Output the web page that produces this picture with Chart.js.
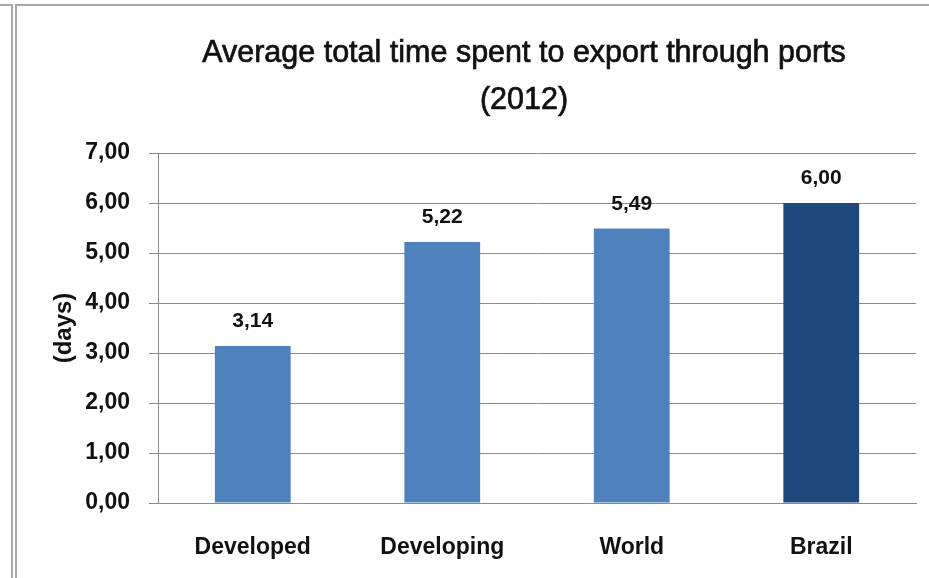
<!DOCTYPE html>
<html>
<head>
<meta charset="utf-8">
<script src="https://cdn.jsdelivr.net/npm/chart.js@4/dist/chart.umd.min.js"></script>
<style>
  html, body { margin: 0; padding: 0; background: #fff; }
  #wrap { position: relative; width: 929px; height: 578px; overflow: hidden; }
  /* frame lines around the chart object */
  .frame-left { position: absolute; left: -2px; top: 4px; width: 13px; height: 600px;
                border-top: 2px solid #a8a8a8; border-right: 2px solid #a8a8a8; }
  .frame-main { position: absolute; left: 15px; top: 4px; width: 940px; height: 600px;
                border-top: 2px solid #a8a8a8; border-left: 2px solid #a8a8a8; }
  canvas { position: absolute; left: 0; top: 0; }
</style>
</head>
<body>
<div id="wrap">
  <div class="frame-left"></div>
  <div class="frame-main"></div>
  <canvas id="chart" width="929" height="578"></canvas>
</div>
<script>
const categories = ['Developed', 'Developing', 'World', 'Brazil'];
const exportDays = [3.14, 5.22, 5.49, 6.00];
const barColors = ['#4F81BD', '#4F81BD', '#4F81BD', '#1F497D'];
const yTicks = [0, 1, 2, 3, 4, 5, 6, 7];
const titleLines = ['Average total time spent to export through ports', '(2012)'];

const FONT = '"Liberation Sans", Arial, sans-serif';
const fmt = v => v.toFixed(2).replace('.', ',');

// value labels above each bar
const barValueLabels = {
    id: 'barValueLabels',
    afterDatasetsDraw(chart) {
        const ctx = chart.ctx;
        const meta = chart.getDatasetMeta(0);
        ctx.save();
        ctx.font = 'bold 21px ' + FONT;
        ctx.fillStyle = '#111';
        ctx.textAlign = 'center';
        ctx.textBaseline = 'alphabetic';
        meta.data.forEach((bar, i) => {
            ctx.fillText(fmt(exportDays[i]), bar.x, bar.y - 19);
        });
        ctx.restore();
    }
};

// two-line heading, centred a bit left of the plot centre
const heading = {
    id: 'heading',
    afterDraw(chart) {
        const ctx = chart.ctx;
        ctx.save();
        ctx.font = '30.5px ' + FONT;
        ctx.fillStyle = '#111';
        ctx.strokeStyle = '#111';
        ctx.lineWidth = 0.7;
        ctx.textAlign = 'center';
        ctx.textBaseline = 'alphabetic';
        titleLines.forEach((line, i) => {
            ctx.fillText(line, 524, 62 + i * 47);
            ctx.strokeText(line, 524, 62 + i * 47);
        });
        ctx.restore();
    }
};

const ctx = document.getElementById('chart').getContext('2d');
new Chart(ctx, {
    type: 'bar',
    data: {
        labels: categories,
        datasets: [{
            data: exportDays,
            backgroundColor: barColors,
            borderWidth: 0,
            barPercentage: 0.4,
            categoryPercentage: 1.0
        }]
    },
    options: {
        responsive: false,
        animation: false,
        layout: { padding: { left: 46, right: 13, top: 153, bottom: 0 } },
        plugins: {
            legend: { display: false },
            tooltip: { enabled: false },
            title: { display: false }
        },
        scales: {
            x: {
                afterFit: scale => { scale.height = 75; },
                grid: { display: false },
                border: { display: true, color: '#8a8a8a', width: 1 },
                ticks: {
                    color: '#111',
                    font: { family: FONT, size: 23, weight: 'bold' },
                    padding: 23
                }
            },
            y: {
                min: 0,
                max: 7,
                afterFit: scale => { scale.width = 158 - 46; },
                afterBuildTicks: scale => { scale.ticks = yTicks.map(v => ({ value: v })); },
                grid: { color: '#8a8a8a', lineWidth: 1, tickLength: 9 },
                border: { display: true, color: '#8a8a8a', width: 1 },
                ticks: {
                    color: '#111',
                    font: { family: FONT, size: 23, weight: 'bold' },
                    padding: 19,
                    callback: v => fmt(v)
                },
                title: {
                    display: true,
                    text: '(days)',
                    color: '#111',
                    font: { family: FONT, size: 24, weight: 'bold' },
                    padding: { top: 4, bottom: 0 }
                }
            }
        }
    },
    plugins: [barValueLabels, heading]
});
</script>
</body>
</html>
